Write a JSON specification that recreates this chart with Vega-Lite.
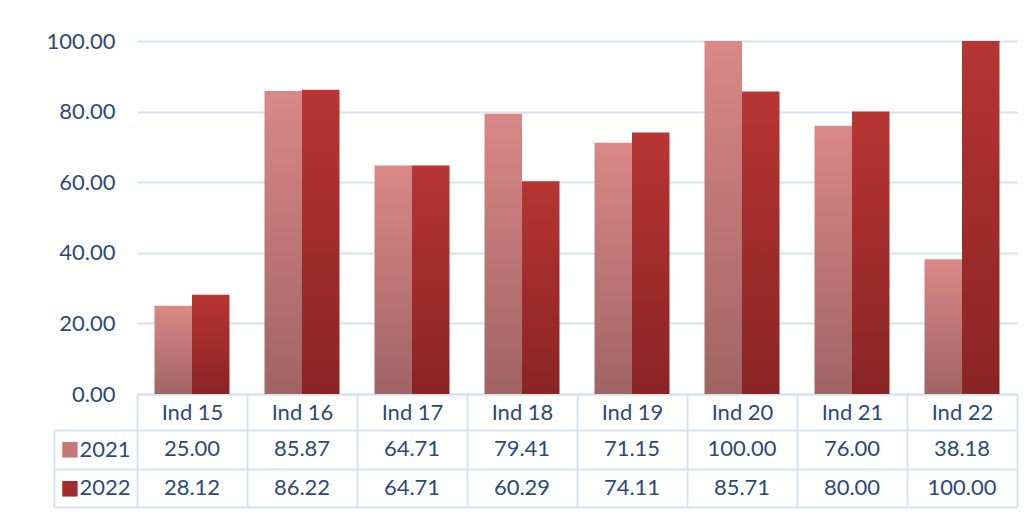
{
  "$schema": "https://vega.github.io/schema/vega-lite/v6.json",
  "padding": {"left": 46, "top": 30, "right": 5, "bottom": 5},
  "background": "#ffffff",
  "data": {
    "values": [
      {"ind": "Ind 15", "year": "2021", "value": 25.00},
      {"ind": "Ind 15", "year": "2022", "value": 28.12},
      {"ind": "Ind 16", "year": "2021", "value": 85.87},
      {"ind": "Ind 16", "year": "2022", "value": 86.22},
      {"ind": "Ind 17", "year": "2021", "value": 64.71},
      {"ind": "Ind 17", "year": "2022", "value": 64.71},
      {"ind": "Ind 18", "year": "2021", "value": 79.41},
      {"ind": "Ind 18", "year": "2022", "value": 60.29},
      {"ind": "Ind 19", "year": "2021", "value": 71.15},
      {"ind": "Ind 19", "year": "2022", "value": 74.11},
      {"ind": "Ind 20", "year": "2021", "value": 100.00},
      {"ind": "Ind 20", "year": "2022", "value": 85.71},
      {"ind": "Ind 21", "year": "2021", "value": 76.00},
      {"ind": "Ind 21", "year": "2022", "value": 80.00},
      {"ind": "Ind 22", "year": "2021", "value": 38.18},
      {"ind": "Ind 22", "year": "2022", "value": 100.00}
    ]
  },
  "bounds": "flush",
  "spacing": 36,
  "vconcat": [
    {
      "width": 880,
      "height": 353,
      "mark": {"type": "bar"},
      "encoding": {
        "x": {
          "field": "ind", "type": "nominal", "sort": null,
          "scale": {"paddingInner": 0, "paddingOuter": 0},
          "axis": {
            "title": null, "orient": "bottom", "labelAngle": 0,
            "domainColor": "#d6e2f2", "domainWidth": 2,
            "ticks": true, "tickBand": "extent", "tickSize": 36,
            "tickColor": "#d6e2f2", "tickWidth": 2,
            "labelPadding": -18, "labelBaseline": "middle",
            "labelFont": "Lato", "labelFontSize": 22, "labelColor": "#2b4a78",
            "grid": false
          }
        },
        "xOffset": {
          "field": "year", "type": "nominal",
          "scale": {"paddingInner": 0, "paddingOuter": 0.467}
        },
        "y": {
          "field": "value", "type": "quantitative",
          "scale": {"domain": [0, 100]},
          "axis": {
            "title": null, "values": [0, 20, 40, 60, 80, 100], "format": ".2f",
            "domain": false, "ticks": false, "labelPadding": 22,
            "labelFont": "Lato", "labelFontSize": 22, "labelColor": "#2b4a78",
            "grid": true, "gridColor": "#d6e2f2", "gridWidth": 2
          }
        },
        "color": {
          "condition": {
            "test": "datum.year === '2021'",
            "value": {
              "gradient": "linear", "x1": 0, "y1": 0, "x2": 0, "y2": 1,
              "stops": [{"offset": 0, "color": "#d98886"}, {"offset": 1, "color": "#a06463"}]
            }
          },
          "value": {
            "gradient": "linear", "x1": 0, "y1": 0, "x2": 0, "y2": 1,
            "stops": [{"offset": 0, "color": "#b73533"}, {"offset": 1, "color": "#8a2424"}]
          }
        }
      }
    },
    {
      "width": 880,
      "height": 77,
      "layer": [
        {
          "mark": {"type": "text", "font": "Lato", "fontSize": 22, "color": "#2b4a78"},
          "encoding": {
            "x": {
              "field": "ind", "type": "nominal", "sort": null,
              "scale": {"paddingInner": 0, "paddingOuter": 0},
              "axis": {
                "title": null, "labels": false, "ticks": false, "domain": false,
                "grid": true, "tickBand": "extent", "gridColor": "#d6e2f2", "gridWidth": 2
              }
            },
            "y": {
              "field": "year", "type": "nominal",
              "scale": {"paddingInner": 0, "paddingOuter": 0},
              "axis": {
                "title": null, "orient": "left", "domain": false,
                "grid": true, "tickBand": "extent", "gridColor": "#d6e2f2", "gridWidth": 2,
                "ticks": true, "tickSize": 83, "tickColor": "#d6e2f2", "tickWidth": 2,
                "labelPadding": -76, "labelAlign": "right", "labelBaseline": "middle",
                "labelFont": "Lato", "labelFontSize": 22, "labelColor": "#2b4a78"
              }
            },
            "text": {"field": "value", "type": "quantitative", "format": ".2f"}
          }
        },
        {
          "mark": {"type": "text", "opacity": 0},
          "encoding": {
            "y": {
              "field": "year", "type": "nominal",
              "scale": {"paddingInner": 0, "paddingOuter": 0},
              "axis": {
                "title": null, "orient": "left", "offset": 83,
                "domain": true, "domainColor": "#d6e2f2", "domainWidth": 2,
                "ticks": false, "grid": false,
                "labelExpr": "'■'", "labelPadding": -25, "labelAlign": "right",
                "labelBaseline": "middle", "labelFont": "DejaVu Sans", "labelFontSize": 20,
                "labelColor": {
                  "condition": {"test": "datum.value === '2021'", "value": "#c47777"},
                  "value": "#a32b2b"
                }
              }
            },
            "text": {"value": ""}
          }
        }
      ],
      "resolve": {"axis": {"y": "independent"}}
    }
  ],
  "config": {
    "view": {"stroke": null}
  }
}
